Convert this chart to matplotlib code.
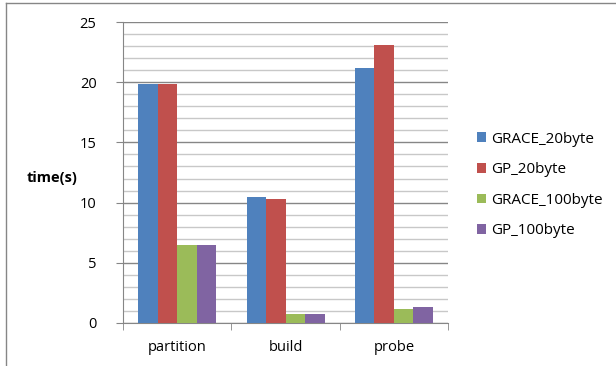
import matplotlib.pyplot as plt
import numpy as np
from matplotlib.lines import Line2D

categories = ["partition", "build", "probe"]
series_names = ["GRACE_20byte", "GP_20byte", "GRACE_100byte", "GP_100byte"]
grace_20 = [19.85, 10.45, 21.2]
gp_20 = [19.85, 10.3, 23.05]
grace_100 = [6.5, 0.75, 1.15]
gp_100 = [6.5, 0.75, 1.3]
colors = ["#4F81BD", "#C0504D", "#9BBB59", "#8064A2"]
yticks = [0, 5, 10, 15, 20, 25]

plt.rcParams['font.family'] = ['Open Sans', 'DejaVu Sans']

fig = plt.figure(figsize=(6.16, 3.66), dpi=100)
ax = fig.add_axes([123/616, 1 - 323/366, (448-123)/616, (323-22)/366])

x = np.arange(len(categories))
bw = 0.18
for i, (vals, c, name) in enumerate(zip([grace_20, gp_20, grace_100, gp_100], colors, series_names)):
    ax.bar(x + (i - 1.5) * bw, vals, width=bw, color=c, label=name, zorder=3)

ax.set_xlim(-0.5, 2.5)
ax.set_ylim(0, 25)
ax.set_yticks(yticks)
ax.set_yticklabels([str(v) for v in yticks], fontsize=10.5)
ax.set_yticks(np.arange(0, 26, 1), minor=True)
ax.tick_params(axis='y', which='minor', length=0)
ax.grid(axis='y', which='major', color='#868686', linewidth=1.0, zorder=0)
ax.grid(axis='y', which='minor', color='#C8C8C8', linewidth=1.0, zorder=0)
ax.tick_params(axis='y', which='major', length=5, color='#868686', pad=14)

ax.set_xticks(x)
ax.set_xticklabels(categories, fontsize=10.5)
ax.tick_params(axis='x', which='major', length=0, pad=12)
ax.set_xticks([-0.5, 0.5, 1.5, 2.5], minor=True)
ax.tick_params(axis='x', which='minor', length=5, color='#868686')

for s in ['top', 'right']:
    ax.spines[s].set_visible(False)
for s in ['left', 'bottom']:
    ax.spines[s].set_color('#868686')

fig.text(27/616, 1 - 178/366, "time(s)", fontsize=10.5, fontweight='bold', va='center', ha='left')

leg = ax.legend(loc='center left', bbox_to_anchor=(471/616, 1 - 185/366), bbox_transform=fig.transFigure,
                frameon=False, fontsize=11, handlelength=0.6, handleheight=0.6, handletextpad=0.35,
                labelspacing=1.02, borderaxespad=0)

# chart area border
fig.add_artist(Line2D([6/616, 1.0], [1 - 3/366, 1 - 3/366], transform=fig.transFigure, color='#868686', lw=1))
fig.add_artist(Line2D([6/616, 6/616], [0, 1 - 3/366], transform=fig.transFigure, color='#868686', lw=1))

fig.savefig("out.png", dpi=100)
